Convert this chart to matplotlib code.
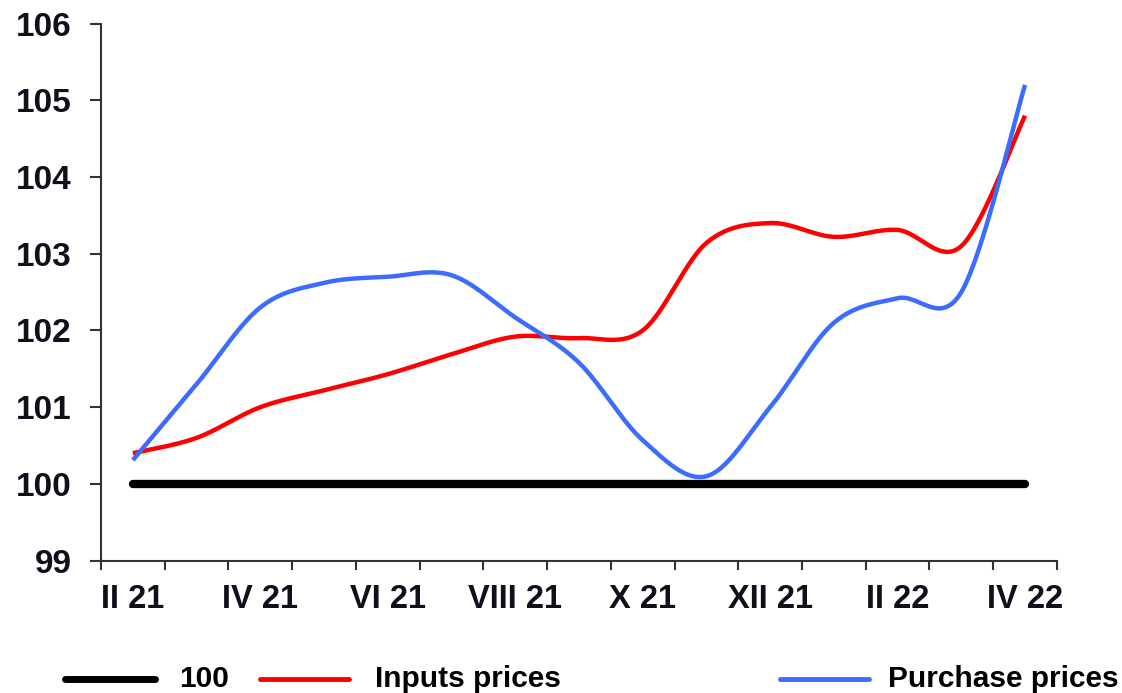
import numpy as np
import matplotlib
matplotlib.use("Agg")
import matplotlib.pyplot as plt
from matplotlib.lines import Line2D

months = ["II 21", "III 21", "IV 21", "V 21", "VI 21", "VII 21", "VIII 21",
          "IX 21", "X 21", "XI 21", "XII 21", "I 22", "II 22", "III 22", "IV 22"]
base = [100] * 15
inputs = [100.40, 100.60, 101.00, 101.22, 101.43, 101.69, 101.92, 101.90,
          102.00, 103.14, 103.40, 103.22, 103.31, 103.10, 104.80]
purchase = [100.31, 101.30, 102.30, 102.62, 102.70, 102.72, 102.17, 101.58,
            100.57, 100.10, 101.00, 102.10, 102.42, 102.50, 105.20]

C_RED = "#ff0000"
C_BLUE = "#3b6cff"
TXT = "#10101c"


def smooth(xs, ys, n=30):
    # Excel-style smoothed line: Bezier segments with Catmull-Rom control points
    p = np.column_stack([xs, ys]).astype(float)
    ext = np.vstack([p[0], p, p[-1]])
    out = []
    t = np.linspace(0, 1, n)[:, None]
    for i in range(len(p) - 1):
        p0, p1, p2, p3 = ext[i], ext[i + 1], ext[i + 2], ext[i + 3]
        c1 = p1 + (p2 - p0) / 6
        c2 = p2 - (p3 - p1) / 6
        seg = ((1 - t) ** 3) * p1 + 3 * ((1 - t) ** 2) * t * c1 \
            + 3 * (1 - t) * t ** 2 * c2 + t ** 3 * p2
        out.append(seg if i == 0 else seg[1:])
    out = np.vstack(out)
    return out[:, 0], out[:, 1]


fig = plt.figure(figsize=(11.22, 6.93), dpi=100)
ax = fig.add_axes([0.090, 0.191, 0.852, 0.775])

x = np.arange(len(months))
ax.plot(x, base, color="black", lw=6, solid_capstyle="round", zorder=2)
sx, sy = smooth(x, inputs)
ax.plot(sx, sy, color=C_RED, lw=3.2, solid_capstyle="butt", zorder=3)
sx, sy = smooth(x, purchase)
ax.plot(sx, sy, color=C_BLUE, lw=3.2, solid_capstyle="butt", zorder=4)

ax.set_xlim(-0.5, len(months) - 0.5)
ax.set_ylim(99, 106)
ax.set_yticks(range(99, 107))
ax.set_xticks(x[::2])
ax.set_xticklabels(months[::2])
ax.set_xticks(np.arange(-0.5, len(months), 1), minor=True)

for s in ["top", "right"]:
    ax.spines[s].set_visible(False)
for s in ["left", "bottom"]:
    ax.spines[s].set_color("#333333")
    ax.spines[s].set_linewidth(1.5)

ax.tick_params(axis="y", direction="out", length=8, width=1.5, color="#333333",
               pad=13, labelsize=24, labelcolor=TXT)
ax.tick_params(axis="x", which="major", length=0, pad=17, labelsize=23.5,
               labelcolor=TXT)
ax.tick_params(axis="x", which="minor", direction="out", length=6.5, width=1.5,
               color="#333333")
for lab in ax.get_xticklabels() + ax.get_yticklabels():
    lab.set_fontfamily(["Liberation Sans", "DejaVu Sans"])
    lab.set_fontweight("bold")

# legend along the bottom
W, H = 1122, 693
ly = 1 - 679 / H
leg_font = dict(family=["Liberation Sans", "DejaVu Sans"],
                fontweight="bold", fontsize=21.5, color="black", va="baseline")
for (x0, x1, col, lw, tx, label) in [
        (65, 155, "black", 5, 179, "100"),
        (260, 349, C_RED, 3.5, 375, "Inputs prices"),
        (780, 869, C_BLUE, 3.5, 888, "Purchase prices")]:
    fig.add_artist(Line2D([x0 / W, x1 / W], [ly, ly], color=col, lw=lw,
                          solid_capstyle="round", transform=fig.transFigure))
    fig.text(tx / W, 1 - 687 / H, label, ha="left", **leg_font)

fig.savefig("out.png", dpi=100)
